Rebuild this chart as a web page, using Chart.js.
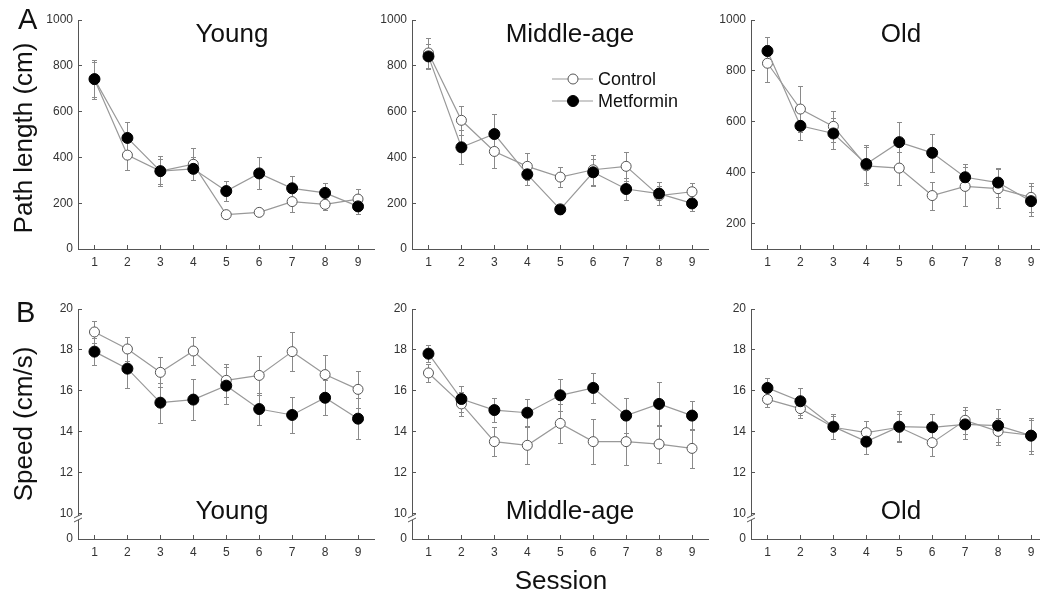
<!DOCTYPE html>
<html>
<head>
<meta charset="utf-8">
<script src="https://cdn.jsdelivr.net/npm/chart.js@4.4.1/dist/chart.umd.min.js"></script>
<style>
  html, body { margin:0; padding:0; background:#fff; }
  body { width:1040px; height:592px; overflow:hidden; position:relative; font-family:Arial, "Liberation Sans", sans-serif; color:#111; }
  canvas { position:absolute; }
  .t { position:absolute; white-space:nowrap; line-height:1; }
  .c { transform:translateX(-50%); }
</style>
</head>
<body>

<canvas id="c1" width="363" height="265" style="left:18px;top:8px"></canvas>
<canvas id="c2" width="363" height="265" style="left:352px;top:8px"></canvas>
<canvas id="c3" width="363" height="265" style="left:691px;top:8px"></canvas>
<canvas id="c4" width="363" height="266" style="left:18px;top:297px"></canvas>
<canvas id="c5" width="363" height="266" style="left:352px;top:297px"></canvas>
<canvas id="c6" width="363" height="266" style="left:691px;top:297px"></canvas>

<div class="t" style="left:18px;top:5px;font-size:29px">A</div>
<div class="t" style="left:16px;top:298px;font-size:29px">B</div>

<div class="t" style="left:23px;top:138px;font-size:26px;transform:translate(-50%,-50%) rotate(-90deg)">Path length (cm)</div>
<div class="t" style="left:23px;top:424px;font-size:26px;transform:translate(-50%,-50%) rotate(-90deg)">Speed (cm/s)</div>

<div class="t c" style="left:232px;top:20px;font-size:26px">Young</div>
<div class="t c" style="left:570px;top:20px;font-size:26px">Middle-age</div>
<div class="t c" style="left:901px;top:20px;font-size:26px">Old</div>
<div class="t c" style="left:232px;top:497px;font-size:26px">Young</div>
<div class="t c" style="left:570px;top:497px;font-size:26px">Middle-age</div>
<div class="t c" style="left:901px;top:497px;font-size:26px">Old</div>
<div class="t c" style="left:561px;top:567px;font-size:26px">Session</div>

<svg style="position:absolute;left:548px;top:68px" width="50" height="44">
  <line x1="4" y1="11" x2="45" y2="11" stroke="#999" stroke-width="1.2"/>
  <circle cx="25" cy="11" r="5" fill="#fff" stroke="#555" stroke-width="1"/>
  <line x1="4" y1="33" x2="45" y2="33" stroke="#999" stroke-width="1.2"/>
  <circle cx="25" cy="33" r="5.5" fill="#000" stroke="#000" stroke-width="1"/>
</svg>
<div class="t" style="left:598px;top:70px;font-size:18px">Control</div>
<div class="t" style="left:598px;top:92px;font-size:18px">Metformin</div>

<script>
// sessions on x axis
const sessions = [1, 2, 3, 4, 5, 6, 7, 8, 9];

// tick labels
const pathTicks = [0, 200, 400, 600, 800, 1000];
const oldPathTicks = [200, 400, 600, 800, 1000];
const speedTicks = [10, 12, 14, 16, 18, 20];

// A: path length (cm), mean and error
const youngPathCtrl = [740, 410, 340, 370, 150, 160, 207, 195, 218];
const youngPathCtrlErr = [75, 63, 55, 70, 12, 14, 45, 25, 45];
const youngPathMet = [742, 485, 340, 350, 253, 330, 265, 245, 186];
const youngPathMetErr = [85, 70, 65, 50, 42, 70, 52, 43, 35];

const midPathCtrl = [856, 562, 426, 361, 314, 346, 361, 233, 250];
const midPathCtrlErr = [65, 64, 72, 58, 45, 65, 62, 40, 40];
const midPathMet = [841, 444, 502, 326, 173, 335, 262, 242, 199];
const midPathMetErr = [55, 75, 88, 45, 20, 60, 50, 50, 35];

const oldPathCtrl = [830, 650, 582, 427, 418, 310, 346, 337, 303];
const oldPathCtrlErr = [72, 89, 61, 75, 65, 55, 78, 76, 56];
const oldPathMet = [878, 584, 554, 434, 520, 478, 382, 361, 288];
const oldPathMetErr = [54, 55, 61, 76, 81, 75, 52, 58, 59];

// B: speed (cm/s)
const youngSpeedCtrl = [18.88, 18.05, 16.91, 17.95, 16.52, 16.76, 17.92, 16.80, 16.08];
const youngSpeedCtrlErr = [0.55, 0.6, 0.73, 0.7, 0.8, 0.97, 0.96, 0.97, 0.9];
const youngSpeedMet = [17.92, 17.09, 15.43, 15.58, 16.26, 15.12, 14.83, 15.67, 14.65];
const youngSpeedMetErr = [0.65, 0.95, 0.97, 1.0, 0.9, 0.8, 0.87, 0.86, 1.0];

const midSpeedCtrl = [16.88, 15.37, 13.53, 13.35, 14.42, 13.53, 13.53, 13.41, 13.2];
const midSpeedCtrlErr = [0.45, 0.57, 0.7, 0.9, 0.95, 1.1, 1.14, 0.94, 0.97];
const midSpeedMet = [17.82, 15.61, 15.07, 14.94, 15.79, 16.15, 14.8, 15.37, 14.8];
const midSpeedMetErr = [0.42, 0.65, 0.6, 0.67, 0.78, 0.75, 0.87, 1.07, 0.7];

const oldSpeedCtrl = [15.59, 15.14, 14.23, 13.97, 14.23, 13.48, 14.57, 14.03, 13.84];
const oldSpeedCtrlErr = [0.35, 0.47, 0.55, 0.58, 0.65, 0.65, 0.67, 0.65, 0.75];
const oldSpeedMet = [16.15, 15.5, 14.26, 13.53, 14.26, 14.23, 14.37, 14.31, 13.82];
const oldSpeedMetErr = [0.5, 0.65, 0.62, 0.58, 0.74, 0.65, 0.7, 0.8, 0.87];

const axisColor = '#555';
const fontFamily = 'Arial, "Liberation Sans", sans-serif';
const speedZero = 8.78; // where the "0" sits below the axis break

// vertical error bars with caps, under the lines
const errorBars = {
  id: 'errorBars',
  beforeDatasetsDraw(chart) {
    const ctx = chart.ctx, xs = chart.scales.x, ys = chart.scales.y;
    ctx.save();
    ctx.strokeStyle = '#8a8a8a';
    ctx.lineWidth = 1;
    chart.data.datasets.forEach(ds => {
      ds.data.forEach((p, i) => {
        const e = ds.errors[i];
        const px = Math.round(xs.getPixelForValue(p.x)) + 0.5;
        const top = Math.round(ys.getPixelForValue(p.y + e)) + 0.5;
        const bot = Math.round(ys.getPixelForValue(p.y - e)) + 0.5;
        ctx.beginPath();
        ctx.moveTo(px, top); ctx.lineTo(px, bot);
        ctx.moveTo(px - 2.5, top); ctx.lineTo(px + 2.5, top);
        ctx.moveTo(px - 2.5, bot); ctx.lineTo(px + 2.5, bot);
        ctx.stroke();
      });
    });
    ctx.restore();
  }
};

// the // break on the speed axes
const axisBreak = {
  id: 'axisBreak',
  afterDraw(chart, args, opts) {
    if (!opts.on) return;
    const ctx = chart.ctx, ys = chart.scales.y;
    const x = chart.chartArea.left;
    const y0 = ys.getPixelForValue(10) + 2;
    ctx.save();
    ctx.fillStyle = '#fff';
    ctx.fillRect(x - 2, y0, 4, 4);
    ctx.strokeStyle = axisColor;
    ctx.lineWidth = 1;
    ctx.beginPath();
    ctx.moveTo(x - 4, y0 + 2); ctx.lineTo(x + 4, y0 - 2);
    ctx.moveTo(x - 4, y0 + 6); ctx.lineTo(x + 4, y0 + 2);
    ctx.stroke();
    ctx.restore();
  }
};

function pts(arr) {
  return arr.map((v, i) => ({ x: sessions[i], y: v }));
}

function makePanel(id, ctrl, ctrlErr, met, metErr, yMin, yMax, ticks, broken) {
  const tickVals = broken ? [speedZero].concat(ticks) : ticks;
  return new Chart(document.getElementById(id), {
    type: 'scatter',
    data: {
      datasets: [{
        label: 'Control',
        data: pts(ctrl),
        errors: ctrlErr,
        showLine: true,
        borderColor: '#999',
        borderWidth: 1.2,
        pointRadius: 5,
        pointBackgroundColor: '#fff',
        pointBorderColor: '#555',
        pointBorderWidth: 1,
        order: 1
      }, {
        label: 'Metformin',
        data: pts(met),
        errors: metErr,
        showLine: true,
        borderColor: '#999',
        borderWidth: 1.2,
        pointRadius: 5.5,
        pointBackgroundColor: '#000',
        pointBorderColor: '#000',
        pointBorderWidth: 1,
        order: 0
      }]
    },
    options: {
      responsive: false,
      animation: false,
      events: [],
      layout: { padding: { left: 0, top: 12, right: 4, bottom: 0 } },
      plugins: {
        legend: { display: false },
        tooltip: { enabled: false },
        axisBreak: { on: broken }
      },
      scales: {
        x: {
          type: 'linear',
          min: 0.5,
          max: 9.5,
          afterBuildTicks: s => { s.ticks = sessions.map(v => ({ value: v })); },
          afterFit: s => { s.height = 24; s.paddingLeft = 0; s.paddingRight = 0; },
          // negative tick length: marks point into the plot
          grid: { display: true, drawOnChartArea: false, drawTicks: true, tickLength: -4, color: axisColor },
          border: { display: true, color: axisColor, width: 1 },
          ticks: { font: { size: 12, family: fontFamily }, color: '#333', padding: 10, maxRotation: 0, autoSkip: false }
        },
        y: {
          type: 'linear',
          min: yMin,
          max: yMax,
          afterBuildTicks: s => { s.ticks = tickVals.map(v => ({ value: v })); },
          afterFit: s => { s.width = 60; s.paddingTop = 0; s.paddingBottom = 0; },
          grid: { display: true, drawOnChartArea: false, drawTicks: true, tickLength: -4, color: axisColor },
          border: { display: true, color: axisColor, width: 1 },
          ticks: {
            font: { size: 12, family: fontFamily },
            color: '#333',
            padding: 9,
            autoSkip: false,
            callback: v => (broken && v < 10) ? '0' : String(v)
          }
        }
      }
    },
    plugins: [errorBars, axisBreak]
  });
}

makePanel('c1', youngPathCtrl, youngPathCtrlErr, youngPathMet, youngPathMetErr, 0, 1000, pathTicks, false);
makePanel('c2', midPathCtrl, midPathCtrlErr, midPathMet, midPathMetErr, 0, 1000, pathTicks, false);
makePanel('c3', oldPathCtrl, oldPathCtrlErr, oldPathMet, oldPathMetErr, 100, 1000, oldPathTicks, false);
makePanel('c4', youngSpeedCtrl, youngSpeedCtrlErr, youngSpeedMet, youngSpeedMetErr, speedZero, 20, speedTicks, true);
makePanel('c5', midSpeedCtrl, midSpeedCtrlErr, midSpeedMet, midSpeedMetErr, speedZero, 20, speedTicks, true);
makePanel('c6', oldSpeedCtrl, oldSpeedCtrlErr, oldSpeedMet, oldSpeedMetErr, speedZero, 20, speedTicks, true);
</script>
</body>
</html>
